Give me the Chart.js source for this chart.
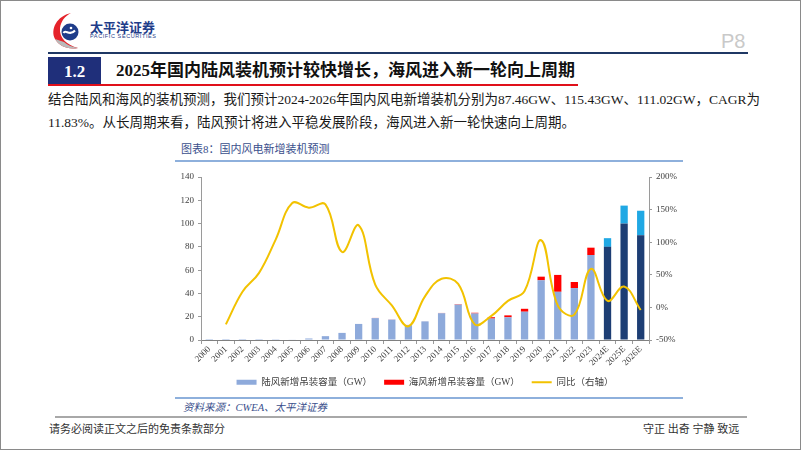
<!DOCTYPE html>
<html>
<head>
<meta charset="utf-8">
<script src="https://cdn.jsdelivr.net/npm/chart.js@4.4.1/dist/chart.umd.min.js"></script>
<style>
  html, body { margin: 0; padding: 0; background: #fff; }
  body { width: 802px; height: 451px; position: relative; overflow: hidden;
         font-family: "Liberation Serif", "Noto Sans CJK SC", serif; }
  .abs { position: absolute; white-space: nowrap; line-height: 1; }
  #frame { position: absolute; left: 0; top: 0; width: 799px; height: 448px; border: 1px solid #8a8a8a; }
  #chart-wrap { position: absolute; left: 150px; top: 165px; width: 550px; height: 232px; }
</style>
</head>
<body>
<div id="frame"></div>

<!-- header -->
<svg class="abs" style="left:50px;top:12px" width="36" height="38" viewBox="0 0 36 38">
  <path d="M21 1 C7 4 0 17 5 27 C9 34 18 38 28 36 C17 33 9 26 10 16 C11 9 15 4 21 1 Z" fill="#e5232b"/>
  <path d="M5 27 C9 34 18 38 28 36 C22 35 17 33 14 30 Z" fill="#b9b9b9"/>
  <circle cx="20" cy="20" r="8.5" fill="#1f3d8a"/>
  <path d="M13.5 21 C15.5 16.5 19.5 25 25 18.5" stroke="#fff" stroke-width="2" fill="none"/>
  <circle cx="21" cy="16" r="1.3" fill="#fff"/>
</svg>
<div class="abs" style="left:90px;top:17px;font:bold 13px 'Noto Sans CJK SC';color:#1f3d8a;">太平洋证券</div>
<div class="abs" style="left:90px;top:33px;font:5.5px 'Liberation Sans';color:#1f3d8a;letter-spacing:0.6px;">PACIFIC SECURITIES</div>
<div class="abs" style="left:721px;top:30px;font:20px 'Liberation Sans Narrow','Liberation Sans';color:#c9c9c9;">P8</div>
<div class="abs" style="left:48px;top:52px;width:700px;height:2px;background:#1f3864;"></div>

<!-- section title -->
<div class="abs" style="left:48px;top:57px;width:53px;height:27px;background:#1f2f7a;"></div>
<div class="abs" style="left:48px;top:62px;width:53px;text-align:center;font:bold 17px 'Liberation Serif';color:#fff;">1.2</div>
<div class="abs" style="left:116px;top:62px;font-weight:bold;font-size:17px;color:#111;">2025年国内陆风装机预计较快增长，海风进入新一轮向上周期</div>
<div class="abs" style="left:48px;top:84px;width:530px;height:2px;background:#e0101a;"></div>

<!-- body text -->
<div class="abs" style="left:48px;top:93px;font-size:13.5px;color:#1a1a1a;">结合陆风和海风的装机预测，我们预计2024-2026年国内风电新增装机分别为87.46GW、115.43GW、111.02GW，CAGR为</div>
<div class="abs" style="left:48px;top:116px;font-size:13.5px;color:#1a1a1a;">11.83%。从长周期来看，陆风预计将进入平稳发展阶段，海风进入新一轮快速向上周期。</div>

<!-- chart frame -->
<div class="abs" style="left:181px;top:144px;font-size:11px;color:#3a4f8c;">图表8：国内风电新增装机预测</div>
<div class="abs" style="left:175px;top:160px;width:508px;height:1.5px;background:#8eb0dc;"></div>
<div id="chart-wrap"><canvas id="c"></canvas></div>
<div class="abs" style="left:175px;top:397px;width:508px;height:1.5px;background:#8eb0dc;"></div>
<div class="abs" style="left:183px;top:403px;font-size:10.5px;font-style:italic;color:#3a4f8c;">资料来源：CWEA、太平洋证券</div>

<!-- footer -->
<div class="abs" style="left:55px;top:416px;width:692px;height:2px;background:#a8a8a8;"></div>
<div class="abs" style="left:49px;top:424px;font-size:11px;color:#333;">请务必阅读正文之后的免责条款部分</div>
<div class="abs" style="left:643px;top:424px;font-size:11px;color:#333;">守正 出奇 宁静 致远</div>

<script>
// categories
const years = ['2000','2001','2002','2003','2004','2005','2006','2007','2008','2009',
  '2010','2011','2012','2013','2014','2015','2016','2017','2018','2019',
  '2020','2021','2022','2023','2024E','2025E','2026E'];

// onshore new hoisting capacity (GW)
const onshore = [0.08, 0.06, 0.07, 0.1, 0.2, 0.5, 1.3, 3.3, 6.1, 13.8,
  18.8, 17.5, 12.8, 16.0, 23.0, 30.4, 22.8, 18.4, 19.5, 24.3,
  51.3, 41.4, 44.6, 73.0, 80.0, 100.0, 90.0];

// offshore new hoisting capacity (GW)
const offshore = [0, 0, 0, 0, 0, 0, 0, 0, 0, 0,
  0.15, 0.1, 0.13, 0.04, 0.23, 0.36, 0.59, 1.16, 1.66, 2.5,
  3.1, 14.5, 5.2, 6.3, 7.46, 15.43, 21.02];

// year-on-year growth (%), right axis
const growth = [null, -26, 24, 53, 104, 160, 153, 158, 85, 126,
  35, 3, -29, 17, 44, 36, -26, -13, 10, 25,
  103, 3, -11, 59, 10, 32, -4];

const firstForecast = years.indexOf('2024E');
const isForecast = (ctx) => ctx.dataIndex !== undefined && ctx.dataIndex >= firstForecast;

const tickFont = { family: 'Liberation Serif', size: 9 };
const axisColor = '#9a9a9a';

new Chart(document.getElementById('c'), {
  type: 'bar',
  data: {
    labels: years,
    datasets: [
      {
        label: '陆风新增吊装容量（GW）',
        data: onshore,
        backgroundColor: (ctx) => isForecast(ctx) ? '#1d3e74' : '#8eaadb',
        stack: 's',
        order: 1,
        pointStyle: 'rect',
        barPercentage: 0.44,
        categoryPercentage: 1
      },
      {
        label: '海风新增吊装容量（GW）',
        data: offshore,
        backgroundColor: (ctx) => isForecast(ctx) ? '#20a8e4' : '#ff0000',
        stack: 's',
        order: 1,
        pointStyle: 'rect',
        barPercentage: 0.44,
        categoryPercentage: 1
      },
      {
        type: 'line',
        label: '同比（右轴）',
        data: growth,
        yAxisID: 'y1',
        borderColor: '#f2c200',
        backgroundColor: '#f2c200',
        borderWidth: 2,
        pointRadius: 0,
        pointStyle: 'line',
        tension: 0.4,
        order: 0
      }
    ]
  },
  options: {
    responsive: true,
    maintainAspectRatio: false,
    animation: false,
    layout: { padding: { top: 12, left: 0, right: 0, bottom: 0 } },
    plugins: {
      tooltip: { enabled: false },
      legend: {
        position: 'bottom',
        labels: {
          usePointStyle: true,
          pointStyleWidth: 20,
          boxHeight: 5,
          padding: 12,
          color: '#404040',
          font: { family: "'Liberation Serif', 'Noto Sans CJK SC'", size: 9.5 },
          sort: (a, b) => a.datasetIndex - b.datasetIndex
        }
      }
    },
    scales: {
      x: {
        stacked: true,
        grid: { drawOnChartArea: false, tickLength: 4, color: axisColor, offset: true },
        border: { color: '#808080' },
        ticks: { font: tickFont, color: '#404040', autoSkip: false, maxRotation: 45, minRotation: 45, padding: 0 },
        afterFit: (s) => { s.height = 25.5; }
      },
      y: {
        stacked: true,
        position: 'left',
        min: 0, max: 140,
        ticks: { stepSize: 20, font: tickFont, color: '#404040', padding: 4 },
        grid: { drawOnChartArea: false, tickLength: 3, color: axisColor },
        border: { color: axisColor },
        afterFit: (s) => { s.width = 51; }
      },
      y1: {
        position: 'right',
        min: -50, max: 200,
        ticks: { stepSize: 50, font: tickFont, color: '#404040', padding: 4, callback: (v) => v + '%' },
        grid: { drawOnChartArea: false, tickLength: 3, color: axisColor },
        border: { color: axisColor },
        afterFit: (s) => { s.width = 51; }
      }
    }
  }
});
</script>
</body>
</html>
